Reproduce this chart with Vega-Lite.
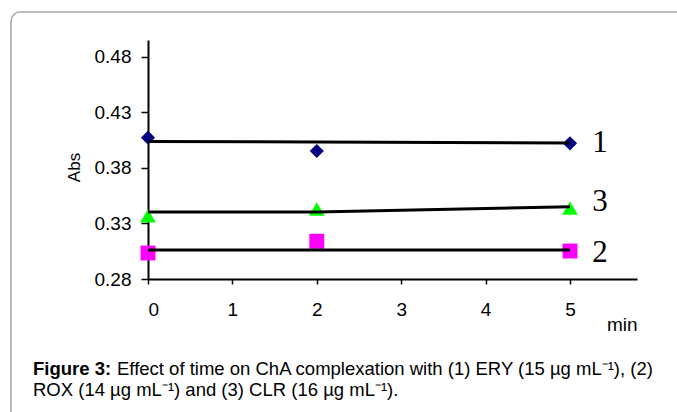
{
  "$schema": "https://vega.github.io/schema/vega-lite/v6.json",
  "width": 489,
  "height": 239,
  "autosize": {"type": "none"},
  "padding": {"left": 148, "top": 40, "right": 40, "bottom": 133},
  "background": "white",
  "config": {
    "view": {"stroke": null},
    "font": "Liberation Sans"
  },
  "datasets": {
    "points": [
      {"series": "1", "t": 0, "abs": 0.4073},
      {"series": "1", "t": 2, "abs": 0.3953},
      {"series": "1", "t": 5, "abs": 0.4022},
      {"series": "2", "t": 0, "abs": 0.3034},
      {"series": "2", "t": 2, "abs": 0.3140},
      {"series": "2", "t": 5, "abs": 0.3052},
      {"series": "3", "t": 0, "abs": 0.3370},
      {"series": "3", "t": 2, "abs": 0.3430},
      {"series": "3", "t": 5, "abs": 0.3440}
    ],
    "trend": [
      {"series": "1", "t": 0, "abs": 0.4039},
      {"series": "1", "t": 2, "abs": 0.4034},
      {"series": "1", "t": 5, "abs": 0.4025},
      {"series": "2", "t": 0, "abs": 0.3061},
      {"series": "2", "t": 2, "abs": 0.3061},
      {"series": "2", "t": 5, "abs": 0.3061},
      {"series": "3", "t": 0, "abs": 0.3404},
      {"series": "3", "t": 2, "abs": 0.3404},
      {"series": "3", "t": 5, "abs": 0.3451}
    ],
    "labels": [
      {"label": "1", "abs": 0.4025},
      {"label": "3", "abs": 0.3494},
      {"label": "2", "abs": 0.3034}
    ],
    "caption": [
      {"part": "bold", "line": 1, "text": "Figure 3:"},
      {"part": "normal", "line": 1, "text": "Effect of time on ChA complexation with (1) ERY (15 µg mL⁻¹), (2)"},
      {"part": "normal", "line": 2, "text": "ROX (14 µg mL⁻¹) and (3) CLR (16 µg mL⁻¹)."}
    ]
  },
  "layer": [
    {
      "mark": {"type": "rect", "fill": null, "stroke": "#a6a6a6", "strokeWidth": 1.5, "cornerRadius": 9, "clip": false},
      "data": {"values": [{"frame": "box"}]},
      "encoding": {
        "x": {"datum": -1.623, "type": "quantitative"},
        "x2": {"datum": 6.45},
        "y": {"datum": 0.5205, "type": "quantitative"},
        "y2": {"datum": 0.14}
      }
    },
    {
      "data": {"name": "points"},
      "mark": {"type": "point", "filled": true, "opacity": 1, "strokeWidth": 0},
      "encoding": {
        "x": {
          "field": "t", "type": "quantitative",
          "scale": {"domain": [0, 5.794], "nice": false, "zero": false},
          "axis": {
            "values": [0, 1, 2, 3, 4, 5], "format": "d", "grid": false,
            "domainColor": "black", "domainWidth": 2, "tickColor": "black", "tickWidth": 1.5, "tickSize": 5,
            "labelFont": "Liberation Sans", "labelFontSize": 19, "labelColor": "black", "labelPadding": 16,
            "title": "min", "titleFont": "Liberation Sans", "titleFontSize": 19, "titleFontWeight": "normal", "titleColor": "black",
            "titleAnchor": "end", "titleBaseline": "alphabetic", "titleY": 51
          }
        },
        "y": {
          "field": "abs", "type": "quantitative",
          "scale": {"domain": [0.28, 0.4953], "nice": false, "zero": false},
          "axis": {
            "values": [0.28, 0.33, 0.38, 0.43, 0.48], "format": ".2f", "grid": false,
            "domainColor": "black", "domainWidth": 2, "tickColor": "black", "tickWidth": 1.5, "tickSize": 7,
            "labelFont": "Liberation Sans", "labelFontSize": 19, "labelColor": "black", "labelPadding": 10,
            "title": "Abs", "titleFont": "Liberation Sans", "titleFontSize": 17, "titleFontWeight": "normal", "titleColor": "black",
            "titlePadding": 11, "titleY": 127
          }
        },
        "shape": {"field": "series", "type": "nominal", "scale": {"domain": ["1", "2", "3"], "range": ["diamond", "square", "triangle-up"]}, "legend": null},
        "color": {"field": "series", "type": "nominal", "scale": {"domain": ["1", "2", "3"], "range": ["#000080", "#FF00FF", "#00FF00"]}, "legend": null},
        "size": {"field": "series", "type": "nominal", "scale": {"domain": ["1", "2", "3"], "range": [200, 245, 280]}, "legend": null}
      }
    },
    {
      "data": {"name": "trend"},
      "mark": {"type": "line", "color": "black", "strokeWidth": 3},
      "encoding": {
        "x": {"field": "t", "type": "quantitative"},
        "y": {"field": "abs", "type": "quantitative"},
        "detail": {"field": "series"}
      }
    },
    {
      "data": {"name": "labels"},
      "mark": {"type": "text", "font": "Liberation Serif", "fontSize": 31, "color": "black", "align": "center", "baseline": "middle", "clip": false},
      "encoding": {
        "x": {"datum": 5.355, "type": "quantitative"},
        "y": {"field": "abs", "type": "quantitative"},
        "text": {"field": "label"}
      }
    },
    {
      "data": {"name": "caption"},
      "transform": [{"filter": "datum.part == 'bold'"}],
      "mark": {"type": "text", "font": "Liberation Sans", "fontSize": 18.5, "fontWeight": "bold", "color": "black", "align": "left", "baseline": "alphabetic"},
      "encoding": {
        "x": {"datum": -1.3626, "type": "quantitative"},
        "y": {"datum": 0.1935, "type": "quantitative"},
        "text": {"field": "text"}
      }
    },
    {
      "data": {"name": "caption"},
      "transform": [{"filter": "datum.part == 'normal' && datum.line == 1"}],
      "mark": {"type": "text", "font": "Liberation Sans", "fontSize": 18.5, "color": "black", "align": "left", "baseline": "alphabetic"},
      "encoding": {
        "x": {"datum": -0.3673, "type": "quantitative"},
        "y": {"datum": 0.1935, "type": "quantitative"},
        "text": {"field": "text"}
      }
    },
    {
      "data": {"name": "caption"},
      "transform": [{"filter": "datum.line == 2"}],
      "mark": {"type": "text", "font": "Liberation Sans", "fontSize": 18.5, "color": "black", "align": "left", "baseline": "alphabetic"},
      "encoding": {
        "x": {"datum": -1.3626, "type": "quantitative"},
        "y": {"datum": 0.1746, "type": "quantitative"},
        "text": {"field": "text"}
      }
    }
  ]
}
